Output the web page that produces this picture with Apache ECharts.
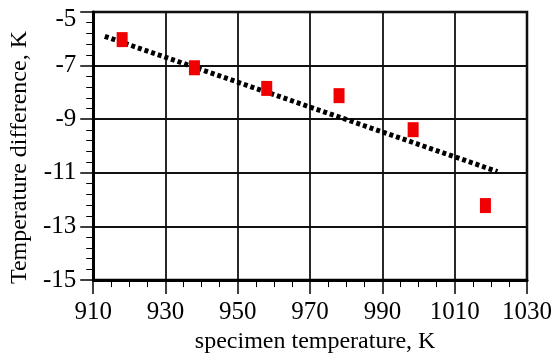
<!DOCTYPE html>
<html>
<head>
<meta charset="utf-8">
<script src="https://cdn.jsdelivr.net/npm/echarts@6/dist/echarts.min.js"></script>
<style>html,body{margin:0;padding:0;background:#fff}#c{width:555px;height:359px}</style>
</head>
<body>
<div id="c"></div>
<script>
var pointX = [918, 938, 958, 978, 998.5, 1018.5];
var pointY = [-6.03, -7.08, -7.85, -8.12, -9.39, -12.22];
var trendX = [913.2, 1021.8];
var trendY = [-5.91, -10.95];
var xTicks = [910, 930, 950, 970, 990, 1010, 1030];
var yTicks = [-15, -13, -11, -9, -7, -5];

var FONT = 'Liberation Serif, Times New Roman, serif';
var chart = echarts.init(document.getElementById('c'), null, {renderer: 'canvas'});
chart.setOption({
  animation: false,
  backgroundColor: '#fff',
  grid: {left: 88, right: 23, top: 12, bottom: 76, show: true, borderColor: '#000', borderWidth: 2.5},
  xAxis: {
    type: 'value', min: xTicks[0], max: xTicks[xTicks.length - 1], interval: 20,
    name: 'specimen temperature, K', nameLocation: 'middle', nameGap: 48,
    nameTextStyle: {fontFamily: FONT, fontSize: 24, color: '#000', padding: [0, 0, 0, 10]},
    axisLine: {show: true, lineStyle: {color: '#000', width: 3}},
    axisTick: {show: true, length: 14, lineStyle: {color: '#000', width: 1.5}},
    minorTick: {show: true, splitNumber: 4, length: 7, lineStyle: {color: '#000', width: 1}},
    splitLine: {show: true, lineStyle: {color: '#111', width: 1.8}},
    axisLabel: {
      fontFamily: FONT, fontSize: 25, color: '#000', margin: 20,
      formatter: function (v) { return v === 1030 ? '{up|' + v + '}' : '' + v; },
      rich: {up: {fontFamily: FONT, fontSize: 25, color: '#000', padding: [0, 0, 10, 0]}}
    }
  },
  yAxis: {
    type: 'value', min: yTicks[0], max: yTicks[yTicks.length - 1], interval: 2,
    name: 'Temperature difference, K', nameLocation: 'middle', nameGap: 58,
    nameTextStyle: {fontFamily: FONT, fontSize: 24, color: '#000', padding: [0, 23, 0, 0]},
    axisLine: {show: true, lineStyle: {color: '#000', width: 3}},
    axisTick: {show: true, length: 13, lineStyle: {color: '#000', width: 1.5}},
    minorTick: {show: true, splitNumber: 5, length: 7, lineStyle: {color: '#000', width: 1}},
    splitLine: {show: true, lineStyle: {color: '#111', width: 1.8}},
    axisLabel: {
      fontFamily: FONT, fontSize: 25, color: '#000', margin: 17,
      formatter: function (v) { return v === -5 ? '{dn|' + v + '}' : '' + v; },
      rich: {dn: {fontFamily: FONT, fontSize: 25, color: '#000', padding: [14, 0, 0, 0]}}
    }
  },
  series: [
    {
      type: 'line',
      data: trendX.map(function (x, i) { return [x, trendY[i]]; }),
      symbol: 'none',
      lineStyle: {color: '#000', width: 5, type: [4, 3]},
      z: 3
    },
    {
      type: 'scatter',
      data: pointX.map(function (x, i) { return [x, pointY[i]]; }),
      symbol: 'rect', symbolSize: [11, 15],
      itemStyle: {color: '#f00000', opacity: 1},
      z: 4
    }
  ]
});
</script>
</body>
</html>
